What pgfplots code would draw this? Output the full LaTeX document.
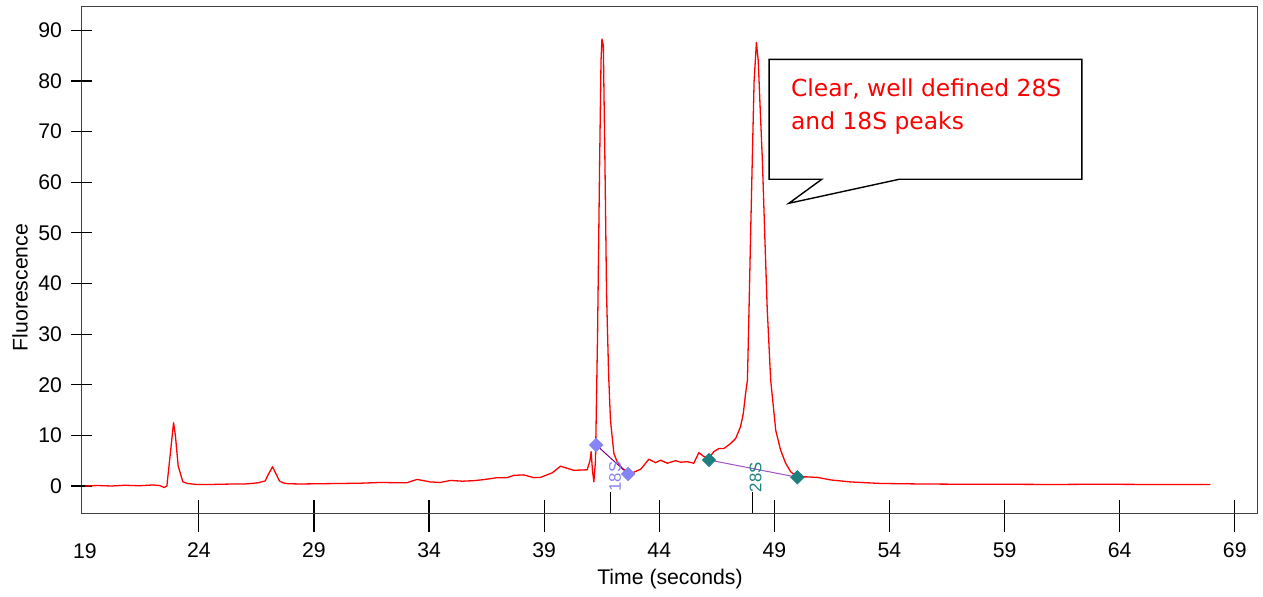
\documentclass[border=0pt]{standalone}
\usepackage{fontspec}
\setmainfont{Liberation Sans}
\newfontfamily\callfont{DejaVu Sans}
\usepackage{pgfplots}
\pgfplotsset{compat=1.18}
\definecolor{cA}{HTML}{8585F5}
\definecolor{cB}{HTML}{1F7F7F}
\definecolor{lA}{HTML}{7F007F}
\definecolor{lB}{HTML}{A050C0}
\begin{document}
\begin{tikzpicture}
\begin{axis}[
  scale only axis,
  clip=false,
  width=587.8pt, height=253.15pt,
  xmin=18.91, xmax=69.98,
  ymin=-5.33, ymax=94.67,
  axis line style={draw=black!75},
  tick pos=left,
  xtick={24,29,...,69},
  ytick=\empty,
  extra y ticks={0,10,...,90},
  extra y tick style={major tick length=10.5pt},
  minor ytick={-4,-2,2,4,6,8,12,14,16,18,22,24,26,28,32,34,36,38,42,44,46,48,52,54,56,58,62,64,66,68,72,74,76,78,82,84,86,88,92,94},
  tick align=center,
  major tick length=16.25pt,
  minor tick length=5pt,
  major tick style={black, line width=0.6pt},
  minor tick style={black!55, line width=0.6pt},
  xtick style={yshift=-1.6pt},
  minor y tick style={xshift=2.5pt},
  tick label style={font=\fontsize{10.6}{12}\selectfont},
  /pgf/number format/assume math mode=true,
  xticklabel style={anchor=north, yshift=-3.4pt},
  yticklabel style={anchor=east, xshift=-1.1pt},
  xlabel={Time (seconds)},
  ylabel={Fluorescence},
  label style={font=\fontsize{10.6}{12}\selectfont},
  xlabel style={at={(axis description cs:0.5004,-0.1304)}, anchor=center},
  ylabel style={at={(axis description cs:-0.0525,0.4454)}, anchor=center},
]
\coordinate (bl) at (rel axis cs:0,0);
\coordinate (tr) at (rel axis cs:1,1);
\addplot[color=red, line width=0.65pt, line join=round] coordinates {
(19.05,0.0) (19.6,0.1) (20.2,0.0) (20.8,0.15) (21.4,0.05) (22.0,0.2) (22.3,0.1) (22.49,-0.3)
(22.61,0.0) (22.75,6) (22.90,12.5) (22.98,10) (23.1,4) (23.3,0.85) (23.5,0.5) (23.9,0.3)
(24.5,0.3) (25.0,0.35) (25.5,0.4) (26.0,0.4) (26.3,0.5) (26.58,0.65) (26.88,1.0) (27.03,2.4)
(27.20,3.8) (27.34,2.5) (27.50,1.0) (27.67,0.6) (27.88,0.45) (28.40,0.4) (29.27,0.45)
(30.14,0.5) (31.01,0.55) (31.88,0.7) (32.53,0.65) (33.04,0.65) (33.48,1.3) (34.06,0.8)
(34.49,0.7) (34.93,1.1) (35.45,0.95) (35.93,1.05) (36.36,1.25) (36.96,1.65) (37.39,1.65)
(37.68,2.1) (38.11,2.2) (38.55,1.65) (38.84,1.7) (39.35,2.6) (39.71,3.9) (40.00,3.5)
(40.29,3.1) (40.58,3.15) (40.87,3.2) (40.99,5.0) (41.04,6.8) (41.10,3) (41.16,0.85)
(41.23,5) (41.32,30) (41.41,64) (41.47,84) (41.51,88.3) (41.57,87) (41.64,64) (41.71,38)
(41.80,22) (41.88,13) (42.03,6.4) (42.17,4.8) (42.39,3.5) (42.61,2.8) (42.83,2.6)
(43.19,3.3) (43.55,5.3) (43.84,4.6) (44.06,5.1) (44.35,4.5) (44.71,5.0) (44.93,4.7)
(45.22,4.8) (45.50,4.5) (45.72,6.6) (45.94,5.8) (46.16,5.5) (46.37,6.8) (46.59,7.4)
(46.81,7.4) (47.10,8.4) (47.32,9.4) (47.53,11.7) (47.65,14.3) (47.75,18.3) (47.83,20.9)
(47.90,35) (47.97,50) (48.04,64.3) (48.12,80) (48.22,87.6) (48.30,84) (48.38,75)
(48.48,64.3) (48.58,50) (48.69,35) (48.84,20.9) (49.06,11) (49.27,7.1) (49.49,4.5)
(49.71,2.8) (50.00,1.8) (50.43,1.8) (50.87,1.7) (51.45,1.2) (52.32,0.8) (53.62,0.5)
(55.36,0.4) (57.10,0.35) (58.84,0.35) (61.01,0.3) (63.19,0.35) (65.36,0.3) (67.94,0.3)
};
\addplot[color=lA, line width=0.5pt, mark=square*, mark size=2.3pt,
  mark options={rotate=45, fill=cA, draw=cA}] coordinates {(41.26,8.1) (42.65,2.37)};
\addplot[color=lB, line width=0.5pt, mark=square*, mark size=2.3pt,
  mark options={rotate=45, fill=cB, draw=cB}] coordinates {(46.16,5.14) (50.00,1.72)};
\addplot[black, line width=0.6pt] coordinates {(41.88,-1.19) (41.88,-5.33)};
\addplot[black, line width=0.6pt] coordinates {(48.05,-1.19) (48.05,-5.33)};
\node[rotate=90, text=cA, font=\fontsize{8.4}{9}\selectfont, inner sep=0pt] at (axis cs:42.08,1.84) {18S};
\node[rotate=90, text=cB, font=\fontsize{8.4}{9}\selectfont, inner sep=0pt] at (axis cs:48.19,1.72) {28S};
\node[anchor=north, font=\fontsize{10.6}{12}\selectfont, inner sep=3.53pt, yshift=-11.5pt] at (axis cs:19.05,-5.33) {19};
\draw[black, line width=0.7pt, fill=white] (axis cs:48.77,60.58) -- (axis cs:51.06,60.58)
  -- (axis cs:49.63,55.84) -- (axis cs:54.42,60.58) -- (axis cs:62.36,60.58)
  -- (axis cs:62.36,84.28) -- (axis cs:48.77,84.28) -- cycle;
\node[anchor=base west, inner sep=0pt, text=red, font=\callfont\fontsize{11.7}{14}\selectfont] at (axis cs:49.71,76.89) {Clear, well defined 28S};
\node[anchor=base west, inner sep=0pt, text=red, font=\callfont\fontsize{11.7}{14}\selectfont] at (axis cs:49.71,70.45) {and 18S peaks};
\end{axis}
\pgfresetboundingbox
\path[use as bounding box] ([shift={(-40.85pt,-42pt)}]bl) rectangle ([shift={(2.85pt,3.35pt)}]tr);
\end{tikzpicture}
\end{document}
